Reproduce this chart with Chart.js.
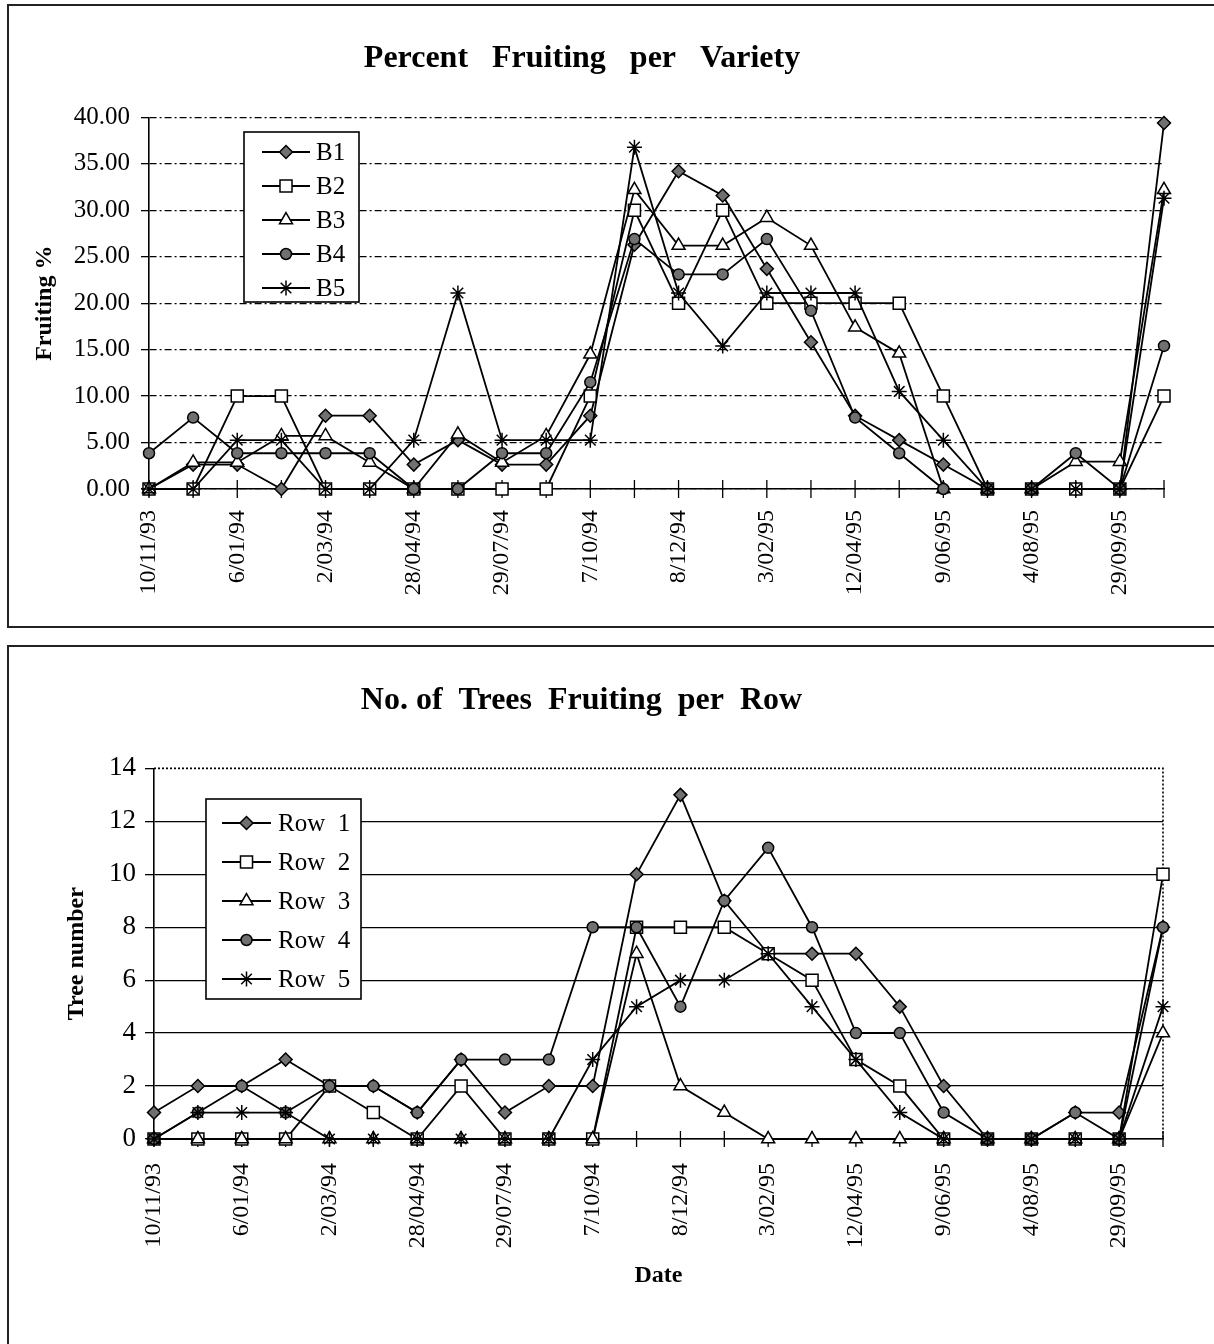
<!DOCTYPE html>
<html>
<head>
<meta charset="utf-8">
<script src="https://cdn.jsdelivr.net/npm/chart.js@4/dist/chart.umd.min.js"></script>
<style>
  body { margin: 0; background: #fff; width: 1214px; height: 1344px; overflow: hidden; position: relative; }
  canvas { position: absolute; left: 0; }
  .frame { position: absolute; border: 2px solid #222; box-sizing: border-box; pointer-events: none; }
</style>
</head>
<body>
<canvas id="chartTop" width="1214" height="640" style="top:0px"></canvas>
<canvas id="chartBottom" width="1214" height="704" style="top:640px"></canvas>
<div class="frame" style="left:7px;top:4px;width:1240px;height:624px"></div>
<div class="frame" style="left:7px;top:645px;width:1240px;height:720px"></div>
<script>
// dates (only every second one is labelled on the axis)
const dates = ['10/11/93', '', '6/01/94', '', '2/03/94', '', '28/04/94', '', '29/07/94', '', '7/10/94', '',
               '8/12/94', '', '3/02/95', '', '12/04/95', '', '9/06/95', '', '4/08/95', '', '29/09/95', ''];

// Percent fruiting per variety
const varieties = ['B1', 'B2', 'B3', 'B4', 'B5'];
const B1 = [0, 2.63, 2.63, 0, 7.89, 7.89, 2.63, 5.26, 2.63, 2.63, 7.89, 26.3, 34.2, 31.6, 23.7, 15.8, 7.89, 5.26, 2.63, 0, 0, 0, 0, 39.4];
const B2 = [0, 0, 10, 10, 0, 0, 0, 0, 0, 0, 10, 30, 20, 30, 20, 20, 20, 20, 10, 0, 0, 0, 0, 10];
const B3 = [0, 2.86, 2.86, 5.71, 5.71, 2.86, 0, 5.88, 2.86, 5.71, 14.5, 32.2, 26.2, 26.2, 29.2, 26.2, 17.4, 14.6, 0, 0, 0, 2.94, 2.94, 32.2];
const B4 = [3.85, 7.69, 3.85, 3.85, 3.85, 3.85, 0, 0, 3.85, 3.85, 11.5, 26.9, 23.1, 23.1, 26.9, 19.2, 7.69, 3.85, 0, 0, 0, 3.85, 0, 15.4];
const B5 = [0, 0, 5.26, 5.26, 0, 0, 5.26, 21.1, 5.26, 5.26, 5.26, 36.8, 21.1, 15.4, 21.1, 21.1, 21.1, 10.5, 5.26, 0, 0, 0, 0, 31.3];

// Number of trees fruiting per row
const rows = ['Row  1', 'Row  2', 'Row  3', 'Row  4', 'Row  5'];
const Row1 = [1, 2, 2, 3, 2, 2, 1, 3, 1, 2, 2, 10, 13, 9, 7, 7, 7, 5, 2, 0, 0, 1, 1, 8];
const Row2 = [0, 0, 0, 0, 2, 1, 0, 2, 0, 0, 0, 8, 8, 8, 7, 6, 3, 2, 0, 0, 0, 0, 0, 10];
const Row3 = [0, 0, 0, 0, 0, 0, 0, 0, 0, 0, 0, 7, 2, 1, 0, 0, 0, 0, 0, 0, 0, 0, 0, 4];
const Row4 = [0, 1, 2, 1, 2, 2, 1, 3, 3, 3, 8, 8, 5, 9, 11, 8, 4, 4, 1, 0, 0, 1, 0, 8];
const Row5 = [0, 1, 1, 1, 0, 0, 0, 0, 0, 0, 3, 5, 6, 6, 7, 5, 3, 1, 0, 0, 0, 0, 0, 5];

const SERIF = "'Liberation Serif', 'Times New Roman', serif";
const GREY = '#707070';

// marker look of the 5 series: diamond, square, triangle, circle, asterisk
const markers = [
  { style: 'rectRot', fill: GREY, r: 6.5 },
  { style: 'rect', fill: '#fff', r: 8.5 },
  { style: 'triangle', fill: '#fff', r: 7.5 },
  { style: 'circle', fill: GREY, r: 5.5 },
  { style: 'star', fill: '#fff', r: 7.5 }
];

function makeDatasets(names, series) {
  return series.map(function (vals, i) {
    return {
      label: names[i],
      data: vals,
      borderColor: '#000',
      borderWidth: 1.8,
      pointStyle: markers[i].style,
      pointRadius: markers[i].r,
      pointBackgroundColor: markers[i].fill,
      pointBorderColor: '#000',
      pointBorderWidth: 1.5,
      tension: 0,
      fill: false,
      clip: false,
      order: names.length - i
    };
  });
}

// legend box drawn inside the plot, line + marker + text
const boxLegend = {
  id: 'boxLegend',
  afterDraw(chart, args, o) {
    const ctx = chart.ctx;
    ctx.save();
    ctx.fillStyle = '#fff';
    ctx.fillRect(o.x, o.y, o.w, o.h);
    ctx.strokeStyle = '#000';
    ctx.lineWidth = 1.6;
    ctx.strokeRect(o.x, o.y, o.w, o.h);
    chart.data.datasets.forEach(function (ds, i) {
      const yy = o.y + o.first + i * o.step;
      ctx.beginPath();
      ctx.moveTo(o.x + o.l1, yy);
      ctx.lineTo(o.x + o.l2, yy);
      ctx.strokeStyle = '#000';
      ctx.lineWidth = 1.8;
      ctx.stroke();
      ctx.fillStyle = ds.pointBackgroundColor;
      ctx.strokeStyle = '#000';
      ctx.lineWidth = 1.5;
      Chart.helpers.drawPoint(ctx, { pointStyle: ds.pointStyle, radius: ds.pointRadius, borderWidth: 1.5, rotation: 0 },
        o.x + (o.l1 + o.l2) / 2, yy);
      ctx.fillStyle = '#000';
      ctx.font = o.fontSize + 'px ' + SERIF;
      ctx.textBaseline = 'middle';
      ctx.textAlign = 'left';
      ctx.fillText(ds.label, o.x + o.tx, yy + 1);
    });
    ctx.restore();
  }
};

// x tick marks crossing the axis (+ dotted plot border when asked)
const crossTicks = {
  id: 'crossTicks',
  beforeDatasetsDraw(chart, args, o) {
    const xs = chart.scales.x, y0 = chart.chartArea.bottom, ctx = chart.ctx;
    ctx.save();
    ctx.strokeStyle = '#000';
    ctx.lineWidth = 1.3;
    xs.ticks.forEach(function (t, i) {
      const px = xs.getPixelForTick(i);
      ctx.beginPath();
      ctx.moveTo(px, y0 - o.len);
      ctx.lineTo(px, y0 + o.len);
      ctx.stroke();
    });
    if (o.dotted) {
      const a = chart.chartArea;
      ctx.setLineDash([2, 2]);
      ctx.lineWidth = 1.6;
      ctx.beginPath();
      ctx.moveTo(a.left, a.top);
      ctx.lineTo(a.right, a.top);
      ctx.lineTo(a.right, a.bottom);
      ctx.stroke();
    }
    ctx.restore();
  }
};

function xScale(labelPad, height, titleText, titlePad) {
  return {
    type: 'category',
    offset: false,
    grid: { display: false },
    border: { display: true, color: '#000', width: 1.6 },
    ticks: {
      autoSkip: false, maxRotation: 90, minRotation: 90, padding: labelPad,
      color: '#000', font: { family: SERIF, size: 24 }
    },
    title: {
      display: !!titleText, text: titleText || '', color: '#000',
      font: { family: SERIF, size: 24, weight: 'bold' }, padding: { top: 0, bottom: titlePad || 0 }
    },
    afterFit: function (s) { s.height = height; }
  };
}

new Chart(document.getElementById('chartTop'), {
  type: 'line',
  data: { labels: dates, datasets: makeDatasets(varieties, [B1, B2, B3, B4, B5]) },
  plugins: [boxLegend, crossTicks],
  options: {
    responsive: false,
    animation: false,
    devicePixelRatio: 1,
    layout: { padding: { left: 0, right: 50, top: 0, bottom: 0 } },
    plugins: {
      legend: { display: false },
      tooltip: { enabled: false },
      title: {
        display: true, text: 'Percent   Fruiting   per   Variety', color: '#000',
        font: { family: SERIF, size: 32, weight: 'bold' }, padding: { top: 40, bottom: 39 }
      },
      boxLegend: { x: 244, y: 132, w: 115, h: 170, first: 20, step: 34, l1: 18, l2: 66, tx: 72, fontSize: 25 },
      crossTicks: { len: 9 }
    },
    scales: {
      x: xScale(13, 151),
      y: {
        min: 0, max: 40,
        grid: { color: '#000', lineWidth: 1.3, tickLength: 8, tickColor: '#000', tickWidth: 1.3, tickBorderDash: [] },
        border: { display: true, color: '#000', width: 1.6, dash: [7, 3, 2, 3] },
        ticks: {
          stepSize: 5, padding: 11, color: '#000', font: { family: SERIF, size: 25 },
          callback: function (v) { return v.toFixed(2); }
        },
        title: {
          display: true, text: 'Fruiting %', color: '#000',
          font: { family: SERIF, size: 24, weight: 'bold' }, padding: { top: 30, bottom: 0 }
        },
        afterFit: function (s) { s.width = 149; }
      }
    }
  }
});

new Chart(document.getElementById('chartBottom'), {
  type: 'line',
  data: { labels: dates, datasets: makeDatasets(rows, [Row1, Row2, Row3, Row4, Row5]) },
  plugins: [boxLegend, crossTicks],
  options: {
    responsive: false,
    animation: false,
    devicePixelRatio: 1,
    layout: { padding: { left: 0, right: 51, top: 0, bottom: 40 } },
    plugins: {
      legend: { display: false },
      tooltip: { enabled: false },
      title: {
        display: true, text: 'No. of  Trees  Fruiting  per  Row', color: '#000',
        font: { family: SERIF, size: 32, weight: 'bold' }, padding: { top: 42, bottom: 48 }
      },
      boxLegend: { x: 206, y: 159, w: 155, h: 200, first: 24, step: 39, l1: 16, l2: 65, tx: 72, fontSize: 25 },
      crossTicks: { len: 8, dotted: true }
    },
    scales: {
      x: xScale(16, 165, 'Date', 14),
      y: {
        min: 0, max: 14,
        grid: {
          color: function (c) { return c.tick && c.tick.value === 14 ? 'rgba(0,0,0,0)' : '#000'; },
          lineWidth: 1.3, tickLength: 9, tickColor: '#000', tickWidth: 1.3
        },
        border: { display: true, color: '#000', width: 1.6 },
        ticks: { stepSize: 2, padding: 9, color: '#000', font: { family: SERIF, size: 27 } },
        title: {
          display: true, text: 'Tree number', color: '#000',
          font: { family: SERIF, size: 24, weight: 'bold' }, padding: { top: 62, bottom: 0 }
        },
        afterFit: function (s) { s.width = 154; }
      }
    }
  }
});
</script>
</body>
</html>
